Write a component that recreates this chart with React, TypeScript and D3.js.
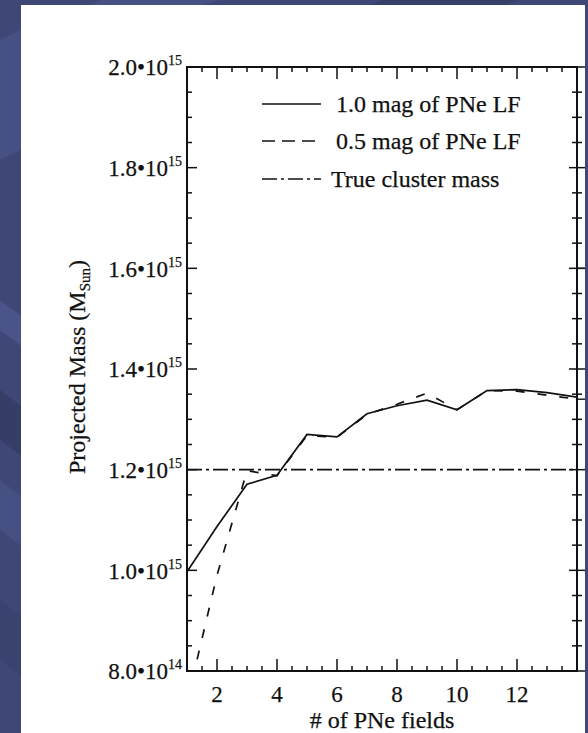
import React from 'react';
import * as d3 from 'd3';

// ---- data (mass in units of 10^15 M_Sun) ----
const fields = [1, 2, 3, 4, 5, 6, 7, 8, 9, 10, 11, 12, 13, 14];
const mass10 = [0.997, 1.087, 1.171, 1.189, 1.27, 1.265, 1.311, 1.327, 1.338, 1.319, 1.357, 1.359, 1.353, 1.344];
const mass05 = [0.738, 0.99, 1.198, 1.188, 1.268, 1.264, 1.31, 1.33, 1.352, 1.319, 1.357, 1.356, 1.348, 1.34];
const trueMass = 1.2;
const yTickValues = [0.8, 1.0, 1.2, 1.4, 1.6, 1.8, 2.0];
const yTickMantissa = ['8.0', '1.0', '1.2', '1.4', '1.6', '1.8', '2.0'];
const yTickExponent = ['14', '15', '15', '15', '15', '15', '15'];
const xTickValues = [2, 4, 6, 8, 10, 12];
const legendLabels = ['1.0 mag of PNe LF', '0.5 mag of PNe LF', 'True cluster mass'];
const xTitle = '# of PNe fields';
// start of neighbouring (cropped) panel curves
const neighborStart = [1.6, 1.34];

const W = 588;
const H = 733;
const FONT = '"Liberation Serif", "Times New Roman", Times, serif';

export default function App() {
  const x = d3.scaleLinear().domain([1, 14]).range([187, 577]);
  const y = d3.scaleLinear().domain([0.8, 2.0]).range([671, 67]);
  const [x0, x1] = x.range();
  const [yb, yt] = y.range();

  const line = d3.line<number>().x((_, i) => x(fields[i])).y((d) => y(d));

  const minorY = d3.range(0.8, 2.0001, 0.05);
  const minorX = d3.range(1, 14.0001, 0.5);

  const stroke = '#111';
  const legendRows = [104, 141, 179];
  const legendDash = [null, '13,7', '15,4,3,4'];
  const textStyle = { fontFamily: FONT, stroke: '#111', strokeWidth: 0.25 } as React.CSSProperties;

  return (
    <svg width={W} height={H} style={{ position: 'absolute', left: 0, top: 0 }}>
      <defs>
        <clipPath id="plotClip">
          <rect x={x0} y={yt} width={x1 - x0} height={yb - yt} />
        </clipPath>
      </defs>
      {/* background */}
      <rect x={0} y={0} width={W} height={H} fill="#3e4775" />
      <polygon points="0,40 40,20 40,140 0,160" fill="#465083" />
      <polygon points="0,300 40,330 40,360 0,330" fill="#4a5488" />
      <polygon points="0,390 40,420 40,470 0,440" fill="#363e68" />
      <polygon points="0,480 40,510 40,560 0,530" fill="#454f82" />
      <polygon points="0,600 40,630 40,690 0,660" fill="#3a4270" />
      <polygon points="100,0 220,0 200,6 90,6" fill="#465083" />
      <polygon points="380,0 520,0 500,6 370,6" fill="#374069" />
      <rect x={21} y={5} width={564} height={728} fill="#ffffff" />

      {/* true mass line */}
      <line x1={x0} x2={x1} y1={y(trueMass)} y2={y(trueMass)} stroke={stroke} strokeWidth={1.6} strokeDasharray="15,4,3,4" />

      {/* data lines */}
      <g clipPath="url(#plotClip)">
        <path d={line(mass05) || ''} fill="none" stroke={stroke} strokeWidth={1.7} strokeDasharray="9,13" />
        <path d={line(mass10) || ''} fill="none" stroke={stroke} strokeWidth={1.7} />
      </g>

      {/* neighbour panel stubs */}
      {neighborStart.map((v, i) => (
        <line key={i} x1={x1} x2={585} y1={y(v)} y2={y(v)} stroke={stroke} strokeWidth={1.4} />
      ))}

      {/* frame */}
      <rect x={x0} y={yt} width={x1 - x0} height={yb - yt} fill="none" stroke={stroke} strokeWidth={2} />

      {/* y ticks */}
      {minorY.map((v, i) => {
        const major = yTickValues.some((t) => Math.abs(t - v) < 1e-6);
        const yy = y(v);
        const len = major ? 10 : 5;
        return (
          <g key={'yt' + i}>
            <line x1={x0} x2={x0 + len} y1={yy} y2={yy} stroke={stroke} strokeWidth={1.5} />
            <line x1={x1 - (major ? 8 : 5)} x2={x1 + (major ? 8 : 5)} y1={yy} y2={yy} stroke={stroke} strokeWidth={1.5} />
          </g>
        );
      })}
      {/* x ticks */}
      {minorX.map((v, i) => {
        const major = Math.abs(v - Math.round(v)) < 1e-6 && Math.round(v) % 2 === 0;
        const xx = x(v);
        const len = major ? 12 : 5;
        return (
          <g key={'xt' + i}>
            <line x1={xx} x2={xx} y1={yb} y2={yb - len} stroke={stroke} strokeWidth={1.5} />
            <line x1={xx} x2={xx} y1={yt} y2={yt + len} stroke={stroke} strokeWidth={1.5} />
          </g>
        );
      })}

      {/* y tick labels */}
      {yTickValues.map((v, i) => (
        <text key={'yl' + i} x={182} y={y(v)} dy="0.36em" textAnchor="end" fontSize={23} fill="#111" style={textStyle}>
          {yTickMantissa[i] + '\u2022' + '10'}
          <tspan fontSize={14} dy={-10}>{yTickExponent[i]}</tspan>
        </text>
      ))}
      {/* x tick labels */}
      {xTickValues.map((v) => (
        <text key={'xl' + v} x={x(v)} y={702} textAnchor="middle" fontSize={23} fill="#111" style={textStyle}>
          {v}
        </text>
      ))}

      {/* titles */}
      <text x={382} y={728} textAnchor="middle" fontSize={24} fill="#111" style={textStyle}>{xTitle}</text>
      <text transform="translate(85,367) rotate(-90)" textAnchor="middle" fontSize={24} fill="#111" style={textStyle}>
        Projected Mass (M<tspan fontSize={15} dy={5}>Sun</tspan><tspan dy={-5}>)</tspan>
      </text>

      {/* legend */}
      {legendLabels.map((lab, i) => (
        <g key={'lg' + i}>
          <line x1={262} x2={321} y1={legendRows[i]} y2={legendRows[i]} stroke={stroke} strokeWidth={1.6}
            strokeDasharray={legendDash[i] || undefined} />
          <text x={i === 2 ? 331 : 336} y={legendRows[i] + 8} fontSize={24} fill="#111" style={textStyle}>{lab}</text>
        </g>
      ))}
    </svg>
  );
}
